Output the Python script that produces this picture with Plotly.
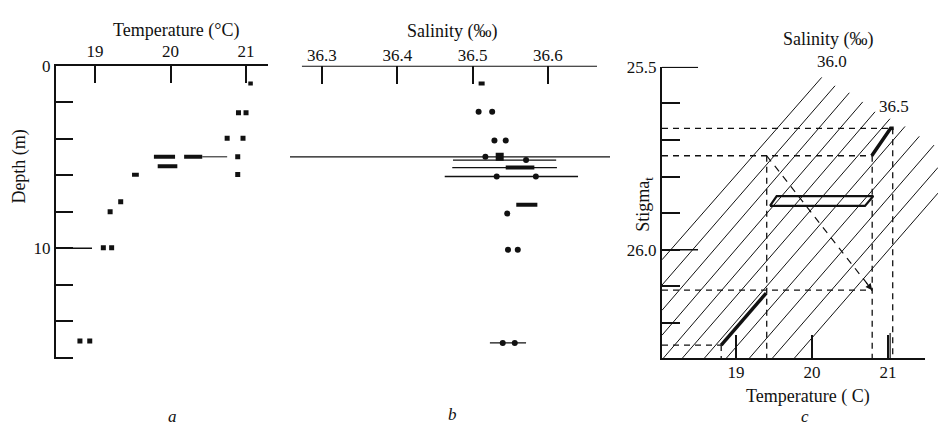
import plotly.graph_objects as go

W, H = 938, 429
FONT = "Liberation Serif"
INK = "#111111"

# ---------------- Panel a: temperature profile ----------------
a_temp_ticks = [19, 20, 21]
depth_ticks = [0, 2, 4, 6, 8, 10, 12, 14, 16]
depth_ticktext = ["0", "", "", "", "", "10", "", "", ""]
a_dot_temp = [20.90, 21.00, 20.75, 20.96, 20.89, 20.89, 19.34, 19.20, 19.11, 19.22, 18.80, 18.93]
a_dot_depth = [2.58, 2.58, 3.97, 3.97, 4.99, 5.96, 7.46, 8.00, 9.98, 9.98, 15.08, 15.08]
a_bar_t0 = [21.03, 19.78, 20.18, 19.83, 19.49]
a_bar_t1 = [21.09, 20.06, 20.42, 20.09, 19.58]
a_bar_depth = [0.97, 4.99, 4.99, 5.51, 5.98]
a_line_t0 = [20.42]
a_line_t1 = [20.75]
a_line_depth = [4.99]

# ---------------- Panel b: salinity profile ----------------
b_sal_ticks = [36.3, 36.4, 36.5, 36.6]
b_sal_ticktext = ["36.3", "36.4", "36.5", "36.6"]
b_dot_sal = [36.508, 36.526, 36.529, 36.544, 36.517, 36.571, 36.532, 36.584, 36.546, 36.547, 36.560, 36.540, 36.556]
b_dot_depth = [2.52, 2.52, 4.10, 4.10, 4.99, 5.17, 6.07, 6.07, 8.10, 10.09, 10.09, 15.19, 15.19]
b_sq_sal = [36.536]
b_sq_depth = [4.99]
b_bar_s0 = [36.508, 36.544, 36.558]
b_bar_s1 = [36.516, 36.582, 36.586]
b_bar_depth = [0.97, 5.58, 7.62]
b_range_s0 = [36.2575, 36.474, 36.473, 36.463, 36.523]
b_range_s1 = [36.6825, 36.611, 36.612, 36.640, 36.571]
b_range_depth = [4.99, 5.17, 5.58, 6.07, 15.19]

# ---------------- Panel c: T-S (sigma-t) diagram ----------------
c_temp_ticks = [19, 20, 21]
c_sig_ticks = [25.5, 25.6, 25.7, 25.8, 25.9, 26.0, 26.1, 26.2, 26.3]
c_sig_ticktext = ["25.5", "", "", "", "", "26.0", "", "", ""]
iso_sal = [36.0, 36.1, 36.2, 36.3, 36.4, 36.5, 36.6, 36.7, 36.8, 36.9, 37.0]
iso_t0 = [18.026, 18.026, 18.026, 18.026, 18.026, 18.276, 18.566, 18.855, 19.158, 19.461, 19.750]
iso_s0 = [26.027, 26.096, 26.165, 26.233, 26.300, 26.300, 26.300, 26.300, 26.300, 26.300, 26.300]
iso_t1 = [20.128, 20.303, 20.491, 20.667, 20.829, 21.026, 21.224, 21.412, 21.605, 21.658, 21.658]
iso_s1 = [25.529, 25.552, 25.571, 25.596, 25.623, 25.642, 25.663, 25.690, 25.714, 25.775, 25.845]
c_hdash_t0 = [18.026, 18.026, 18.026, 18.026]
c_hdash_t1 = [21.066, 20.786, 20.792, 18.805]
c_hdash_sig = [25.668, 25.743, 26.110, 26.260]
c_vdash_t = [19.404, 20.792, 21.062, 18.805]
c_vdash_s0 = [25.743, 25.743, 25.668, 26.260]
c_vdash_s1 = [26.300, 26.300, 26.300, 26.300]
c_diag_t = [19.404, 20.792]
c_diag_sig = [25.743, 26.110]
c_thick1_t = [18.805, 19.397]
c_thick1_sig = [26.260, 26.118]
c_thick2_t = [20.786, 21.035, 21.075]
c_thick2_sig = [25.743, 25.668, 25.668]
c_box_t = [19.447, 19.535, 20.807, 20.697, 19.447]
c_box_sig = [25.880, 25.853, 25.853, 25.880, 25.880]


def seg_trace(x0s, x1s, ys, xa, ya, width, dash="solid", horizontal=True):
    xs, yv = [], []
    for a, b, c in zip(x0s, x1s, ys):
        if horizontal:
            xs += [a, b, None]
            yv += [c, c, None]
        else:
            xs += [c, c, None]
            yv += [a, b, None]
    return go.Scatter(x=xs, y=yv, mode="lines", xaxis=xa, yaxis=ya,
                      line=dict(color=INK, width=width, dash=dash),
                      hoverinfo="skip", showlegend=False)


def px_x(p):
    return p / W


def px_y(p):
    return 1 - p / H


fig = go.Figure()

# panel a
fig.add_trace(go.Scatter(x=a_dot_temp, y=a_dot_depth, mode="markers", xaxis="x", yaxis="y",
                         marker=dict(symbol="square", size=5, color=INK), showlegend=False))
fig.add_trace(seg_trace(a_bar_t0, a_bar_t1, a_bar_depth, "x", "y", 4))
fig.add_trace(seg_trace(a_line_t0, a_line_t1, a_line_depth, "x", "y", 1))

# panel b
fig.add_trace(seg_trace(b_range_s0, b_range_s1, b_range_depth, "x2", "y2", 1.3))
fig.add_trace(seg_trace(b_bar_s0, b_bar_s1, b_bar_depth, "x2", "y2", 4))
fig.add_trace(go.Scatter(x=b_dot_sal, y=b_dot_depth, mode="markers", xaxis="x2", yaxis="y2",
                         marker=dict(symbol="circle", size=6, color=INK), showlegend=False))
fig.add_trace(go.Scatter(x=b_sq_sal, y=b_sq_depth, mode="markers", xaxis="x2", yaxis="y2",
                         marker=dict(symbol="square", size=8, color=INK), showlegend=False))

# panel c
xs, ys = [], []
for a, b, c, d in zip(iso_t0, iso_s0, iso_t1, iso_s1):
    xs += [a, c, None]
    ys += [b, d, None]
fig.add_trace(go.Scatter(x=xs, y=ys, mode="lines", xaxis="x3", yaxis="y3",
                         line=dict(color=INK, width=1), hoverinfo="skip", showlegend=False))
fig.add_trace(seg_trace(c_hdash_t0, c_hdash_t1, c_hdash_sig, "x3", "y3", 1.3, dash="6px,5px"))
fig.add_trace(seg_trace(c_vdash_s0, c_vdash_s1, c_vdash_t, "x3", "y3", 1.3, dash="6px,5px", horizontal=False))
fig.add_trace(go.Scatter(x=c_diag_t, y=c_diag_sig, mode="lines", xaxis="x3", yaxis="y3",
                         line=dict(color=INK, width=1.2, dash="7px,6px"), showlegend=False))
fig.add_trace(go.Scatter(x=c_thick1_t, y=c_thick1_sig, mode="lines", xaxis="x3", yaxis="y3",
                         line=dict(color=INK, width=3.5), showlegend=False))
fig.add_trace(go.Scatter(x=c_thick2_t, y=c_thick2_sig, mode="lines", xaxis="x3", yaxis="y3",
                         line=dict(color=INK, width=3.5), showlegend=False))
fig.add_trace(go.Scatter(x=c_box_t, y=c_box_sig, mode="lines", xaxis="x3", yaxis="y3",
                         line=dict(color=INK, width=2.2), showlegend=False))

tickfont = dict(family=FONT, size=17, color=INK)
common = dict(showgrid=False, zeroline=False, color=INK, tickfont=tickfont,
              tickcolor=INK, tickwidth=1.5, linecolor=INK, linewidth=2)

fig.update_layout(
    width=W, height=H, margin=dict(l=0, r=0, t=0, b=0),
    paper_bgcolor="white", plot_bgcolor="rgba(0,0,0,0)",
    showlegend=False,
    xaxis=dict(domain=[px_x(56), px_x(268)], range=[18.483, 21.291], anchor="y", side="top",
               showline=True, ticks="inside", ticklen=17, tickvals=a_temp_ticks,
               ticktext=[str(v) for v in a_temp_ticks], **common),
    yaxis=dict(domain=[px_y(358), px_y(58)], range=[16.1, 0], anchor="x",
               showline=True, ticks="inside", ticklen=17, tickvals=depth_ticks,
               ticktext=depth_ticktext, **common),
    xaxis2=dict(domain=[px_x(285), px_x(615)], range=[36.2509, 36.6891], anchor="y2", side="top",
                showline=False, ticks="inside", ticklen=18, tickvals=b_sal_ticks,
                ticktext=b_sal_ticktext, **common),
    yaxis2=dict(domain=[px_y(358), px_y(58)], range=[16.1, 0], anchor="x2", visible=False),
    xaxis3=dict(domain=[px_x(662), 1.0], range=[18.026, 21.658], anchor="y3", side="bottom",
                showline=False, ticks="inside", ticklen=25, tickvals=c_temp_ticks,
                ticktext=[str(v) for v in c_temp_ticks], **common),
    yaxis3=dict(domain=[px_y(359), px_y(59)], range=[26.302, 25.5], anchor="x3",
                showline=True, ticks="inside", ticklen=18, tickvals=c_sig_ticks,
                ticktext=c_sig_ticktext, **common),
)

shapes = [
    # panel a long tick at 10 m
    dict(type="line", xref="x", yref="y", x0=18.483, x1=18.96, y0=10, y1=10,
         line=dict(color=INK, width=1.5)),
    # panel b axis line
    dict(type="line", xref="x2", yref="y2", x0=36.2734, x1=36.6652, y0=0, y1=0,
         line=dict(color=INK, width=2)),
    # panel c bottom axis line
    dict(type="line", xref="x3", yref="y3", x0=18.026, x1=21.487, y0=26.298, y1=26.298,
         line=dict(color=INK, width=2)),
    # panel c long ticks
    dict(type="line", xref="x3", yref="y3", x0=18.026, x1=18.50, y0=25.5015, y1=25.5015,
         line=dict(color=INK, width=1.5)),
    dict(type="line", xref="x3", yref="y3", x0=18.026, x1=18.50, y0=26.0, y1=26.0,
         line=dict(color=INK, width=1.5)),
    # double tick at 21
    dict(type="line", xref="x3", yref="y3", x0=21.028, x1=21.028, y0=26.30, y1=26.227,
         line=dict(color=INK, width=1.2)),
]
fig.update_layout(shapes=shapes)


def ann(text, x, y, size=18, angle=0, italic=False):
    return dict(text=f"<i>{text}</i>" if italic else text, x=px_x(x), y=px_y(y),
                xref="paper", yref="paper", showarrow=False, textangle=angle,
                font=dict(family=FONT, size=size, color=INK), xanchor="center", yanchor="middle")


annotations = [
    ann("Temperature (°C)", 176, 22),
    ann("Depth (m)", 20, 161, angle=-90),
    ann("a", 172, 416, size=17, italic=True),
    ann("Salinity (‰)", 452, 23),
    ann("b", 452, 414, size=17, italic=True),
    ann("Salinity (‰)", 828, 31),
    ann("36.0", 832, 54, size=17),
    ann("36.5", 894, 100, size=17),
    ann("Stigma<sub>t</sub>", 645, 200, angle=-90),
    ann("Temperature ( C)", 808, 396),
    ann("c", 805, 416, size=17, italic=True),
    # arrowhead at the end of the diagonal dashed line
    dict(x=c_diag_t[1], y=c_diag_sig[1], xref="x3", yref="y3",
         ax=20.696, ay=26.085, axref="x3", ayref="y3", text="",
         showarrow=True, arrowhead=2, arrowsize=1.2, arrowwidth=1.1, arrowcolor=INK),
]
fig.update_layout(annotations=annotations)

fig.write_html("out.html", config={"displayModeBar": False},
               post_script="document.body.style.margin='0px';document.body.style.overflow='hidden';")
